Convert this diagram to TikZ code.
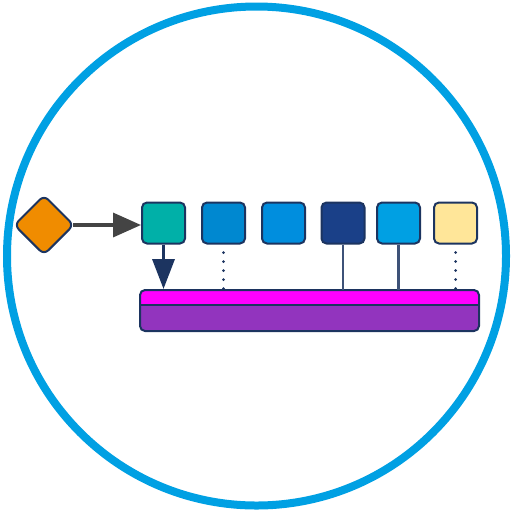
\documentclass[tikz,border=0pt]{standalone}
\usetikzlibrary{arrows.meta,shapes.geometric}
\definecolor{ringblue}{RGB}{0,160,227}
\definecolor{navy}{RGB}{28,52,96}
\definecolor{dgray}{RGB}{68,68,68}
\definecolor{orangec}{RGB}{240,140,0}
\definecolor{tealc}{RGB}{0,176,168}
\definecolor{blueA}{RGB}{0,136,208}
\definecolor{blueB}{RGB}{0,142,222}
\definecolor{blueC}{RGB}{26,64,136}
\definecolor{blueD}{RGB}{0,160,227}
\definecolor{yellowc}{RGB}{255,230,153}
\definecolor{pinkc}{RGB}{255,0,255}
\definecolor{purplec}{RGB}{146,52,190}
\tikzset{
  sq/.style={draw=navy, line width=2pt, rounded corners=5pt, minimum width=43pt, minimum height=41pt, inner sep=0pt},
  dotline/.style={navy, line width=3pt, dash pattern=on 0pt off 9pt, line cap=round},
  solidline/.style={navy!85!white, line width=2.2pt},
}
\begin{document}
\begin{tikzpicture}[x=1pt,y=-1pt]
\useasboundingbox (0,0) rectangle (513,512);
\node[circle, draw=ringblue, line width=8pt, minimum size=499pt, inner sep=0pt] (ring) at (256.5,256) {};
% diamond
\node[diamond, draw=navy, line width=2pt, fill=orangec, rounded corners=6pt, minimum width=60pt, minimum height=60pt, inner sep=0pt] (dia) at (44,225) {};
% boxes
\node[sq, fill=tealc] (b1) at (163.5,223) {};
\node[sq, fill=blueA] (b2) at (223.5,223) {};
\node[sq, fill=blueB] (b3) at (283.5,223) {};
\node[sq, fill=blueC] (b4) at (343,223) {};
\node[sq, fill=blueD] (b5) at (398.5,223) {};
\node[sq, fill=yellowc] (b6) at (455.5,223) {};
% bar
\fill[purplec, rounded corners=5pt] (140,290) rectangle (479,331);
\fill[pinkc, rounded corners=4pt] (140,305) -- (140,290) -- (479,290) -- (479,305) -- cycle;
\draw[navy, line width=2pt] (140,305) -- (479,305);
\draw[navy, line width=2pt, rounded corners=5pt] (140,290) rectangle (479,331);
\coordinate (t1) at (163.5,289);
\coordinate (t2) at (223.5,292);
\coordinate (t4) at (343,290);
\coordinate (t5) at (398.5,290);
\coordinate (t6) at (455.5,292);
% connectors
\draw[dgray, line width=3.5pt, -{Triangle[length=28pt,width=24pt]}] ([xshift=-2pt]dia.east) -- (dia.east -| b1.west);
\draw[navy, line width=3.5pt, -{Triangle[length=30pt,width=22pt]}] (b1.south) -- (t1);
\draw[dotline] ([yshift=-8pt]b2.south) -- (t2);
\draw[dotline] ([yshift=-8pt]b6.south) -- (t6);
\draw[solidline] (b4.south) -- (t4);
\draw[solidline] (b5.south) -- (t5);
\end{tikzpicture}
\end{document}
